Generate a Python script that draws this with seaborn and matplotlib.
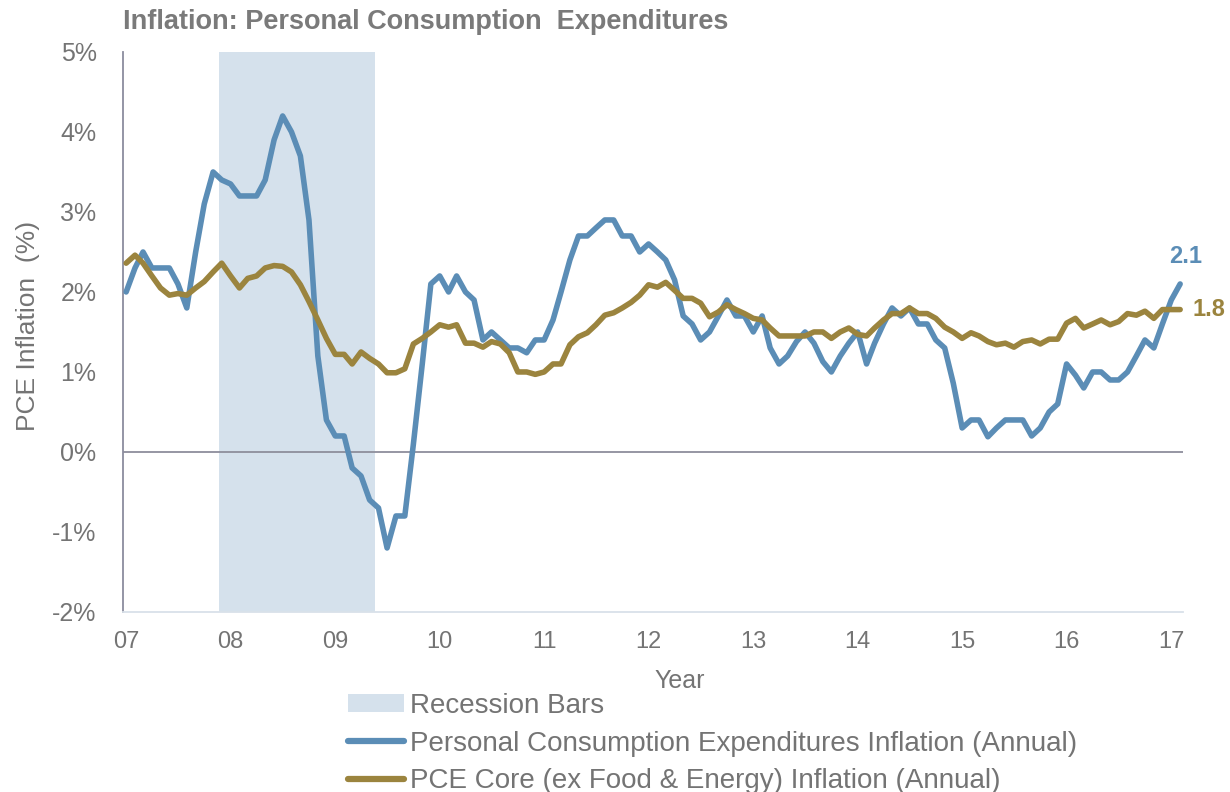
import pandas as pd
import numpy as np
import matplotlib
matplotlib.use('Agg')
import matplotlib.pyplot as plt
import matplotlib.dates as mdates
from matplotlib.patches import Patch
from matplotlib.lines import Line2D
import seaborn as sns

# Inflacao PCE mensal (variacao anual, %), jan/2007 a fev/2017
pce = [2.0, 2.3, 2.5, 2.3, 2.3, 2.3, 2.1, 1.8, 2.5, 3.1, 3.5, 3.4,
       3.35, 3.2, 3.2, 3.2, 3.4, 3.9, 4.2, 4.0, 3.7, 2.9, 1.2, 0.4,
       0.2, 0.2, -0.2, -0.3, -0.6, -0.7, -1.2, -0.8, -0.8, 0.1, 1.1, 2.1,
       2.2, 2.0, 2.2, 2.0, 1.9, 1.4, 1.5, 1.4, 1.3, 1.3, 1.24, 1.4,
       1.4, 1.65, 2.0, 2.4, 2.7, 2.7, 2.8, 2.9, 2.9, 2.7, 2.7, 2.5,
       2.6, 2.5, 2.4, 2.15, 1.7, 1.6, 1.4, 1.5, 1.7, 1.9, 1.7, 1.7,
       1.5, 1.7, 1.3, 1.1, 1.2, 1.38, 1.5, 1.36, 1.13, 1.0, 1.2, 1.36,
       1.5, 1.1, 1.36, 1.6, 1.8, 1.7, 1.8, 1.6, 1.6, 1.4, 1.3, 0.86,
       0.3, 0.4, 0.4, 0.19, 0.3, 0.4, 0.4, 0.4, 0.2, 0.3, 0.5, 0.6,
       1.1, 0.96, 0.8, 1.0, 1.0, 0.9, 0.9, 1.0, 1.2, 1.4, 1.3, 1.6,
       1.9, 2.1]

core = [2.36, 2.46, 2.36, 2.2, 2.05, 1.96, 1.98, 1.96, 2.05, 2.13, 2.25, 2.36,
        2.2, 2.05, 2.17, 2.2, 2.3, 2.33, 2.32, 2.25, 2.09, 1.88, 1.65, 1.42,
        1.22, 1.22, 1.1, 1.25, 1.17, 1.1, 0.99, 0.99, 1.04, 1.35, 1.42, 1.5,
        1.59, 1.56, 1.59, 1.36, 1.36, 1.31, 1.38, 1.35, 1.24, 1.0, 1.0, 0.97,
        1.0, 1.1, 1.1, 1.34, 1.44, 1.49, 1.59, 1.71, 1.74, 1.8, 1.87, 1.96,
        2.09, 2.06, 2.12, 2.02, 1.92, 1.92, 1.86, 1.69, 1.75, 1.84, 1.78, 1.73,
        1.67, 1.65, 1.55, 1.45, 1.45, 1.45, 1.45, 1.5, 1.5, 1.42, 1.5, 1.55,
        1.47, 1.45, 1.55, 1.65, 1.73, 1.73, 1.8, 1.73, 1.73, 1.67, 1.56, 1.5,
        1.42, 1.49, 1.45, 1.38, 1.34, 1.36, 1.31, 1.38, 1.4, 1.35, 1.41, 1.41,
        1.61, 1.67, 1.55, 1.6, 1.65, 1.59, 1.63, 1.73, 1.71, 1.76, 1.67, 1.78,
        1.78, 1.78]

recession = ['2007-11-22', '2009-05-20']
yticks = [-2, -1, 0, 1, 2, 3, 4, 5]
ytick_labels = ['-2%', '-1%', '0%', '1%', '2%', '3%', '4%', '5%']

blue = '#5b8db6'
gold = '#9b843e'
grey = '#747474'

df = pd.DataFrame({
    'date': pd.date_range('2007-01-01', periods=len(pce), freq='MS'),
    'pce': pce,
    'core': core,
})

sns.set_style('white')
plt.rcParams['font.family'] = ['Liberation Sans', 'DejaVu Sans']

fig = plt.figure(figsize=(12.3, 7.92), dpi=100)
ax = fig.add_axes([0.1, 0.2273, 0.8618, 0.7071])

# Barra de recessao
ax.axvspan(pd.Timestamp(recession[0]), pd.Timestamp(recession[1]),
           color='#d5e1ec', lw=0, zorder=0)
ax.axhline(0, color='#8e8e9c', lw=1.3, zorder=1)

sns.lineplot(data=df, x='date', y='pce', color=blue, lw=4.0, ax=ax, zorder=3)
sns.lineplot(data=df, x='date', y='core', color=gold, lw=4.0, ax=ax, zorder=4)

ax.set_xlim(pd.Timestamp('2006-12-21'), pd.Timestamp('2017-02-11'))
ax.set_ylim(-2, 5)
ax.set_yticks(yticks)
ax.set_yticklabels(ytick_labels)
ax.xaxis.set_major_locator(mdates.YearLocator())
ax.xaxis.set_major_formatter(mdates.DateFormatter('%y'))
ax.tick_params(axis='y', length=0, pad=19, labelsize=18, labelcolor=grey)
ax.tick_params(axis='x', length=0, pad=14, labelsize=17, labelcolor=grey)
ax.set_xlabel('')
ax.set_ylabel('')

for s in ['top', 'right']:
    ax.spines[s].set_visible(False)
ax.spines['left'].set_color('#8b8c9e')
ax.spines['left'].set_linewidth(1.3)
ax.spines['bottom'].set_color('#d9e1e9')
ax.spines['bottom'].set_linewidth(1.3)

# Rotulos do ultimo valor
ax.annotate('2.1', xy=(df['date'].iloc[-1], pce[-1]), xytext=(4, 20),
            textcoords='offset points', ha='center', va='center',
            color=blue, fontsize=17, fontweight='bold')
ax.annotate('1.8', xy=(df['date'].iloc[-1], core[-1]), xytext=(9, 0),
            textcoords='offset points', ha='left', va='center',
            color=gold, fontsize=17, fontweight='bold')

fig.text(0.1, 1 - 22 / 792, 'Inflation: Personal Consumption  Expenditures',
         ha='left', va='center', fontsize=19.5, fontweight='bold', color='#7a7a7a')
fig.text(28 / 1230, 1 - 326 / 792, 'PCE Inflation  (%)', rotation=90,
         ha='center', va='center', fontsize=19, color=grey)
fig.text(680 / 1230, 1 - 681 / 792, 'Year', ha='center', va='center',
         fontsize=18, color=grey)

handles = [Patch(facecolor='#d5e1ec', edgecolor='none'),
           Line2D([0], [0], color=blue, lw=4.5),
           Line2D([0], [0], color=gold, lw=4.5)]
labels = ['Recession Bars',
          'Personal Consumption Expenditures Inflation (Annual)',
          'PCE Core (ex Food & Energy) Inflation (Annual)']
fig.legend(handles, labels, loc='upper left', bbox_to_anchor=(348 / 1230, 1 - 693 / 792),
           frameon=False, prop={'size': 20}, labelcolor=grey,
           handlelength=2.0, handleheight=0.6, handletextpad=0.25, labelspacing=0.42,
           borderpad=0, borderaxespad=0)

fig.savefig('out.png', dpi=100)
